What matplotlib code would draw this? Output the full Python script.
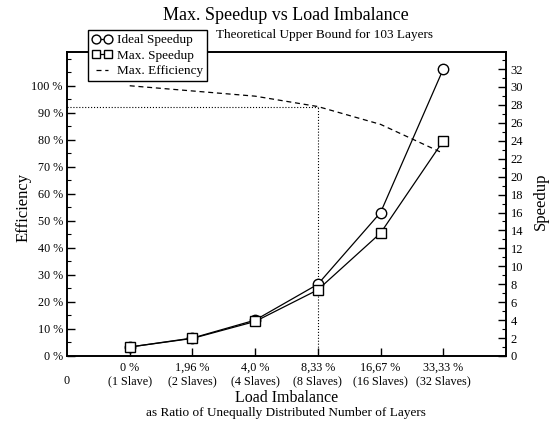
import matplotlib
matplotlib.use('Agg')
import matplotlib.pyplot as plt
from matplotlib.ticker import MultipleLocator

plt.rcParams['font.family'] = ['Liberation Serif', 'DejaVu Serif']

# data
slaves = [1, 2, 4, 8, 16, 32]
imbalance_labels = ['0 %', '1,96 %', '4,0 %', '8,33 %', '16,67 %', '33,33 %']
ideal_speedup = [1, 2, 4, 8, 16, 32]
max_speedup = [1.0, 1.96, 3.85, 7.38, 13.71, 24.0]
max_efficiency = [100.0, 98.08, 96.15, 92.31, 85.71, 75.0]

xpos = list(range(1, len(slaves) + 1))
xlabels = ['\n0'] + ['%s\n(%d Slave%s)' % (l, s, '' if s == 1 else 's')
                     for l, s in zip(imbalance_labels, slaves)]

fig = plt.figure(figsize=(5.55, 4.24), dpi=100)
ax = fig.add_axes([0.1207, 0.1604, 0.791, 0.717])
ax2 = ax.twinx()

# efficiency on left axis
eff_line, = ax.plot(xpos, max_efficiency, color='black', ls=(0, (4, 3)), lw=0.9)
# guide at 8 slaves
ax.plot([0, xpos[3]], [max_efficiency[3], max_efficiency[3]], color='black', ls=':', lw=0.8)
ax.plot([xpos[3], xpos[3]], [0, max_efficiency[3]], color='black', ls=':', lw=0.8)

ax.set_xlim(0, 7)
ax.set_ylim(0, 112.5)
ax.set_xticks([0] + xpos)
ax.set_xticklabels(xlabels, fontsize=8.7, linespacing=1.15)
ax.yaxis.set_major_locator(MultipleLocator(10))
ax.yaxis.set_minor_locator(MultipleLocator(5))
ax.set_yticks(range(0, 101, 10))
ax.set_yticklabels(['%d %%' % v for v in range(0, 101, 10)], fontsize=8.7)
ax.set_ylabel('Efficiency', fontsize=12)
ax.yaxis.set_label_coords(-0.0797, 0.49)
fig.text(0.516, 1 - 398 / 424, 'Load Imbalance', ha='center', va='center', fontsize=11.5)
fig.text(0.516, 1 - 413 / 424, 'as Ratio of Unequally Distributed Number of Layers',
         ha='center', va='center', fontsize=9.5)

# speedups on right axis
ideal_line, = ax2.plot(xpos, ideal_speedup, color='black', lw=0.9, marker='o',
                       ms=7.5, mfc='white', mec='black', mew=1.0)
max_line, = ax2.plot(xpos, max_speedup, color='black', lw=0.9, marker='s',
                     ms=7, mfc='white', mec='black', mew=1.0)
ax2.set_ylim(0, 33.9)
ax2.yaxis.set_major_locator(MultipleLocator(2))
ax2.yaxis.set_minor_locator(MultipleLocator(1))
ax2.tick_params(axis='y', labelsize=9)
ax2.set_ylabel('Speedup', fontsize=12)
ax2.yaxis.set_label_coords(1.0615, 0.51)

for a in (ax, ax2):
    a.tick_params(which='major', direction='in', length=6, width=1.0)
    a.tick_params(which='minor', direction='in', length=3, width=0.8)
    for sp in a.spines.values():
        sp.set_linewidth(1.2)
ax.tick_params(axis='y', pad=3)
ax.tick_params(axis='x', pad=4)
ax.get_xticklines()[0].set_visible(False)
ax.get_xticklines()[1].set_visible(False)

fig.text(0.5145, 1 - 15 / 424, 'Max. Speedup vs Load Imbalance', ha='center', va='center', fontsize=13)
fig.text(0.584, 1 - 35 / 424, 'Theoretical Upper Bound for 103 Layers', ha='center', va='center', fontsize=9.5)

leg = fig.legend([ideal_line, max_line, eff_line],
                 ['Ideal Speedup', 'Max. Speedup', 'Max. Efficiency'],
                 loc='upper left', bbox_to_anchor=(0.1586, 0.929), borderaxespad=0,
                 fontsize=9.5, numpoints=2, handlelength=1.5, handletextpad=0.4,
                 borderpad=0.3, labelspacing=0.25, fancybox=False,
                 framealpha=1, edgecolor='black', markerscale=0.85)
leg.get_frame().set_linewidth(1.0)

fig.savefig('out.png', dpi=100)
